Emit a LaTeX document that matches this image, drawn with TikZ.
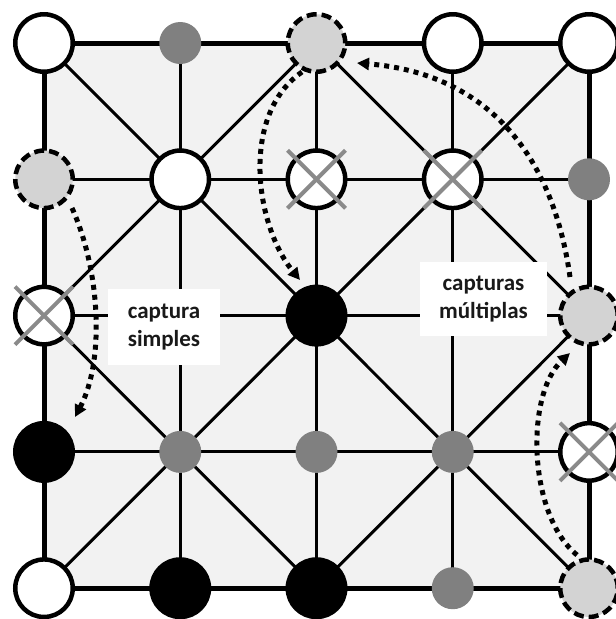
\documentclass[tikz,border=0pt]{standalone}
\usepackage{fontspec}
\setmainfont{Carlito}
\usetikzlibrary{arrows.meta}
\definecolor{boardfill}{HTML}{F2F2F2}
\definecolor{lightstone}{HTML}{D3D3D3}
\definecolor{dotgray}{HTML}{808080}
\definecolor{crossgray}{HTML}{8A8A8A}
\begin{document}
\begin{tikzpicture}[x=1pt,y=-1pt,
  stone/.style={circle, minimum size=57.5pt, inner sep=0pt, line width=4.5pt},
  whitestone/.style={stone, draw=black, fill=white},
  blackstone/.style={stone, draw=black, fill=black},
  ghost/.style={stone, draw=black, fill=lightstone, dash pattern=on 10pt off 5pt},
  dot/.style={circle, minimum size=42pt, inner sep=0pt, fill=dotgray},
  frame/.style={line width=5pt},
  link/.style={line width=3pt},
  cross/.style={draw=crossgray, line width=4pt},
  move/.style={line width=5pt, dash pattern=on 5pt off 5pt,
    -{Triangle[length=12pt,width=12pt]}},
  note/.style={fill=white, align=center, inner sep=0pt,
    font=\fontsize{23}{27.6}\selectfont\bfseries, text=black!90}
]
\useasboundingbox (0,0) rectangle (616,619);

% board points p-<column>-<row>
\foreach \c in {1,...,5}
  \foreach \r in {1,...,5}
    \coordinate (p-\c-\r) at ({44+136.25*(\c-1)},{43+136.3*(\r-1)});

% board background
\fill[boardfill] (p-1-1) rectangle (p-5-5);

% inner lines
\foreach \k in {2,3,4} {
  \draw[link] (p-1-\k) -- (p-5-\k);
  \draw[link] (p-\k-1) -- (p-\k-5);
}
\draw[link] (p-1-1) -- (p-5-5);
\draw[link] (p-5-1) -- (p-1-5);
\draw[link] (p-3-1) -- (p-1-3) -- (p-3-5) -- (p-5-3) -- cycle;

% outer frame
\draw[frame] (p-1-1) -- (p-5-1) -- (p-5-5) -- (p-1-5) -- cycle;

% labels
\node[note, minimum width=112pt, minimum height=76pt] (simple) at (164,327) {captura\\simples};
\node[note, minimum width=127pt, minimum height=74pt] (multi) at (483.5,299) {capturas\\múltiplas};

% row 1
\node[whitestone] (s-1-1) at (p-1-1) {};
\node[dot]        (s-2-1) at (p-2-1) {};
\node[ghost]      (s-3-1) at (p-3-1) {};
\node[whitestone] (s-4-1) at (p-4-1) {};
\node[whitestone] (s-5-1) at (p-5-1) {};
% row 2
\node[ghost]      (s-1-2) at (p-1-2) {};
\node[whitestone] (s-2-2) at (p-2-2) {};
\node[whitestone] (s-3-2) at (p-3-2) {};
\node[whitestone] (s-4-2) at (p-4-2) {};
\node[dot]        (s-5-2) at (p-5-2) {};
% row 3
\node[whitestone] (s-1-3) at (p-1-3) {};
\node[blackstone] (s-3-3) at (p-3-3) {};
\node[ghost]      (s-5-3) at (p-5-3) {};
% row 4
\node[blackstone] (s-1-4) at (p-1-4) {};
\node[dot]        (s-2-4) at (p-2-4) {};
\node[dot]        (s-3-4) at (p-3-4) {};
\node[dot]        (s-4-4) at (p-4-4) {};
\node[whitestone] (s-5-4) at (p-5-4) {};
% row 5
\node[whitestone] (s-1-5) at (p-1-5) {};
\node[blackstone] (s-2-5) at (p-2-5) {};
\node[blackstone] (s-3-5) at (p-3-5) {};
\node[dot]        (s-4-5) at (p-4-5) {};
\node[ghost]      (s-5-5) at (p-5-5) {};

% captured pieces
\foreach \c/\r in {3/2, 4/2, 1/3, 5/4} {
  \draw[cross] (p-\c-\r) ++(-29,-29) -- ++(58,58);
  \draw[cross] (p-\c-\r) ++(29,-29) -- ++(-58,58);
}

% capture moves
\coordinate (a1s) at (72,208);   \coordinate (a1e) at (75,417);
\coordinate (a2s) at (302,72);   \coordinate (a2e) at (300,280);
\coordinate (a3s) at (570,277);  \coordinate (a3e) at (357,63);
\coordinate (a4s) at (577,555);  \coordinate (a4e) at (570,353);
\draw[move] (a1s) .. controls (100,270) and (105,360) .. (a1e);
\draw[move] (a2s) .. controls (240,115) and (255,225) .. (a2e);
\draw[move] (a3s) .. controls (550,135) and (470,72) .. (a3e);
\draw[move] (a4s) .. controls (528,515) and (525,395) .. (a4e);
\end{tikzpicture}
\end{document}
